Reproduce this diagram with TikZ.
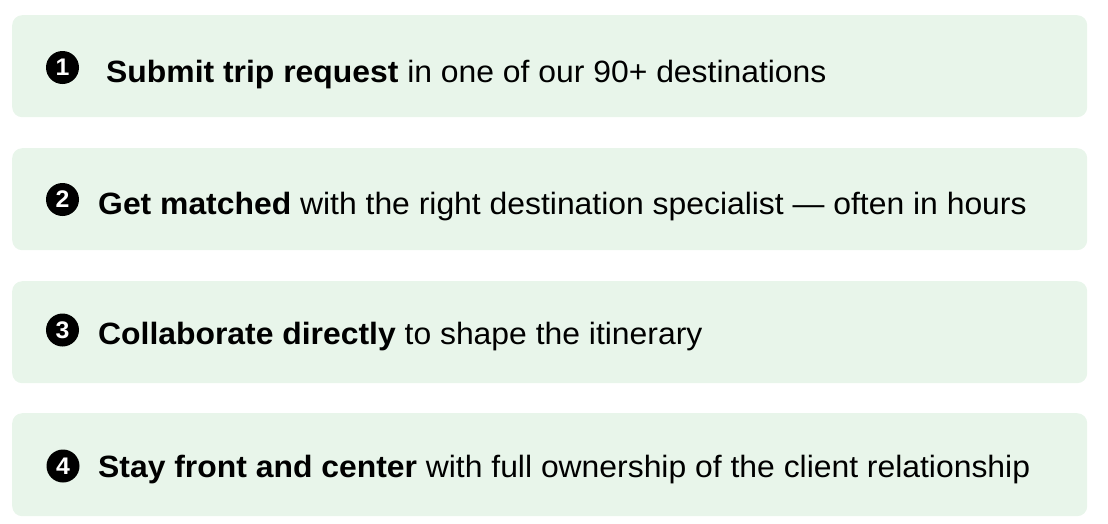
\documentclass[tikz,border=0pt]{standalone}
\usepackage{fontspec}
\setmainfont{Liberation Sans}[FakeStretch=1.035]
\definecolor{boxgreen}{RGB}{232,245,234}
\begin{document}
\begin{tikzpicture}[x=1pt,y=-1pt,
  stepbox/.style={fill=boxgreen, draw=none, rounded corners=10pt, anchor=north west,
    minimum width=1075pt, minimum height=102pt, inner sep=0pt},
  num/.style={circle, fill=black, text=white, inner sep=0pt, minimum size=33pt,
    font=\fontsize{24}{24}\selectfont\bfseries},
  steptext/.style={anchor=base west, inner sep=0pt, font=\fontsize{30.8}{36}\selectfont}]
\useasboundingbox (0,0) rectangle (1108,523);
\node[stepbox] (b1) at (12,15) {};
\node[stepbox] (b2) at (12,148) {};
\node[stepbox] (b3) at (12,281) {};
\node[stepbox, minimum height=103pt] (b4) at (12,413) {};
\node[num] (n1) at (62.5,67.5) {1};
\node[num] (n2) at (62.5,199.5) {2};
\node[num] (n3) at (62.5,330) {3};
\node[num] (n4) at (63,466) {4};
\node[steptext] (t1) at (106,82) {\textbf{Submit trip request} in one of our 90+ destinations};
\node[steptext] (t2) at (98,214.5) {\textbf{Get matched} with the right destination specialist — often in hours};
\node[steptext] (t3) at (98,344) {\textbf{Collaborate directly} to shape the itinerary};
\node[steptext] (t4) at (98,477) {\textbf{Stay front and center} with full ownership of the client relationship};
\end{tikzpicture}
\end{document}
